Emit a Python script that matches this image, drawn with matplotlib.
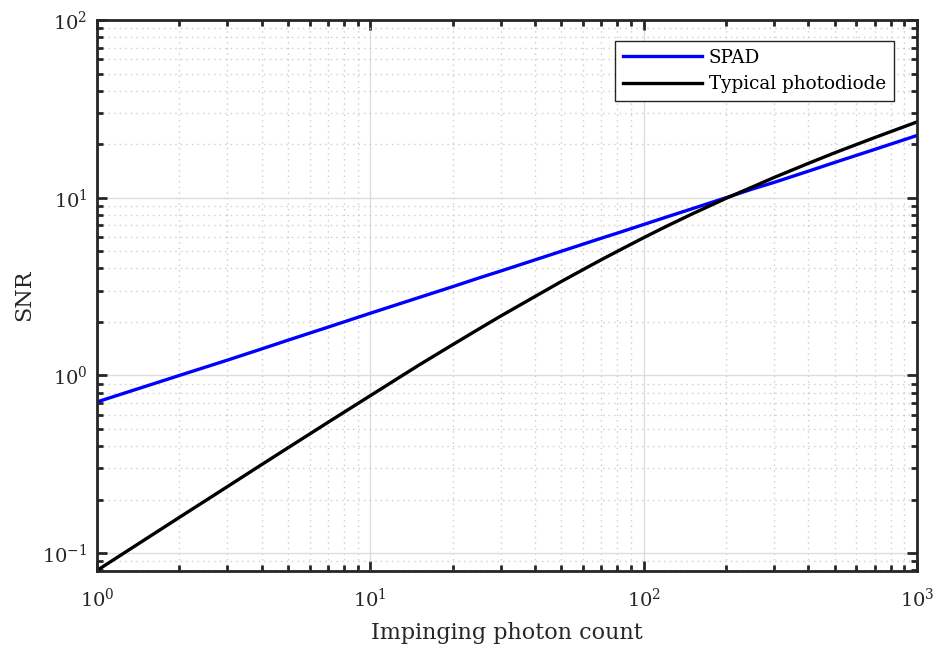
import numpy as np
import matplotlib
matplotlib.use("Agg")
import matplotlib.pyplot as plt
from matplotlib.ticker import LogLocator, NullFormatter

plt.rcParams['font.family'] = ['DejaVu Serif']
plt.rcParams['mathtext.fontset'] = 'dejavuserif'

# values
photons = [1, 2, 3, 4, 5, 7, 10, 15, 20, 25, 30, 40, 50, 60, 70, 80, 100, 120, 150, 200,
           250, 300, 400, 500, 700, 1000]
snr_spad = [0.71, 1.0, 1.22, 1.41, 1.58, 1.87, 2.24, 2.74, 3.16, 3.54, 3.87, 4.47, 5.0,
            5.48, 5.92, 6.32, 7.07, 7.75, 8.66, 10.0, 11.2, 12.2, 14.1, 15.8, 18.7, 22.4]
snr_pd = [0.080, 0.159, 0.237, 0.315, 0.392, 0.545, 0.77, 1.14, 1.49, 1.83, 2.16, 2.78, 3.38,
          3.94, 4.48, 4.99, 5.96, 6.86, 8.09, 9.92, 11.5, 13.0, 15.6, 17.9, 21.8, 26.7]
series_names = ['SPAD', 'Typical photodiode']
series_colors = ['#0000ff', '#000000']

fig = plt.figure(figsize=(9.33, 6.47), dpi=100)
ax = fig.add_axes([97/933, 1-571/647, (917-97)/933, (571-20)/647])

ax.plot(photons, snr_spad, color=series_colors[0], lw=2.4, label=series_names[0])
ax.plot(photons, snr_pd, color=series_colors[1], lw=2.4, label=series_names[1])

ax.set_xscale('log')
ax.set_yscale('log')
ax.set_xlim(1, 1000)
ax.set_ylim(10**-1.1, 100)

ax.xaxis.set_minor_locator(LogLocator(base=10, subs=np.arange(2, 10)))
ax.yaxis.set_minor_locator(LogLocator(base=10, subs=np.arange(2, 10)))
ax.xaxis.set_minor_formatter(NullFormatter())
ax.yaxis.set_minor_formatter(NullFormatter())

ax.grid(True, which='major', color='#dedede', lw=1.0, ls='-')
ax.grid(True, which='minor', color='#cccccc', lw=1.0, ls=(0, (1, 3)))
ax.set_axisbelow(True)

ax.tick_params(which='both', direction='in', top=True, right=True,
               colors='#262626', labelsize=14, width=2)
ax.tick_params(which='major', length=7)
ax.tick_params(which='minor', length=4)
ax.tick_params(axis='x', which='major', pad=12)
ax.tick_params(axis='y', which='major', pad=7)
for sp in ax.spines.values():
    sp.set_linewidth(2)
    sp.set_color('#262626')

ax.set_xlabel('Impinging photon count', fontsize=16, color='#262626', labelpad=8)
ax.set_ylabel('SNR', fontsize=16, color='#262626', labelpad=5)

leg = ax.legend(loc='upper right', bbox_to_anchor=(0.972, 0.9625), borderaxespad=0,
                fontsize=13.2, frameon=True, fancybox=False, edgecolor='#262626',
                framealpha=1, handlelength=4.3, handletextpad=0.35,
                borderpad=0.45, labelspacing=0.45)
leg.get_frame().set_linewidth(1.0)

fig.savefig('out.png', dpi=100)
